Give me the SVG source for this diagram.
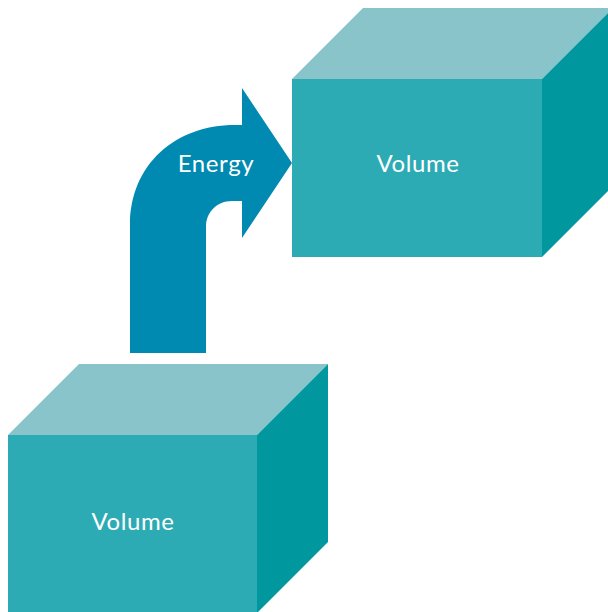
<svg xmlns="http://www.w3.org/2000/svg" width="608" height="612" viewBox="0 0 608 612">
<style>
.front{fill:#2dabb4}
.top{fill:#89c4cb}
.side{fill:#00979f}
.lbl{font-family:Lato,"Open Sans",sans-serif;font-size:24px;letter-spacing:0.6px;fill:#ffffff;text-anchor:middle}
</style>
<rect width="608" height="612" fill="#ffffff"/>
<g id="cube-top">
<polygon class="top" points="292,79 363,8 613,8 542,79"/>
<polygon class="side" points="542,79 613,8 613,186 542,257"/>
<rect class="front" x="292" y="79" width="250" height="178"/>
<text class="lbl" x="418" y="172">Volume</text>
</g>
<g id="cube-bottom">
<polygon class="top" points="8,435 79,364 328,364 257,435"/>
<polygon class="side" points="257,435 328,364 328,542 257,613"/>
<rect class="front" x="8" y="435" width="249" height="178"/>
<text class="lbl" x="133" y="530">Volume</text>
</g>
<g id="connectors">
<path id="energy-arrow" d="M130,353 L130,225 C130,165 175,125 235,125 L242,125 L242,88 L292,163 L242,238 L242,201 L232,201 C217,201 206,212 206,227 L206,353 Z" fill="#008ab2"/>
<text class="lbl" x="216" y="172">Energy</text>
</g>
</svg>
